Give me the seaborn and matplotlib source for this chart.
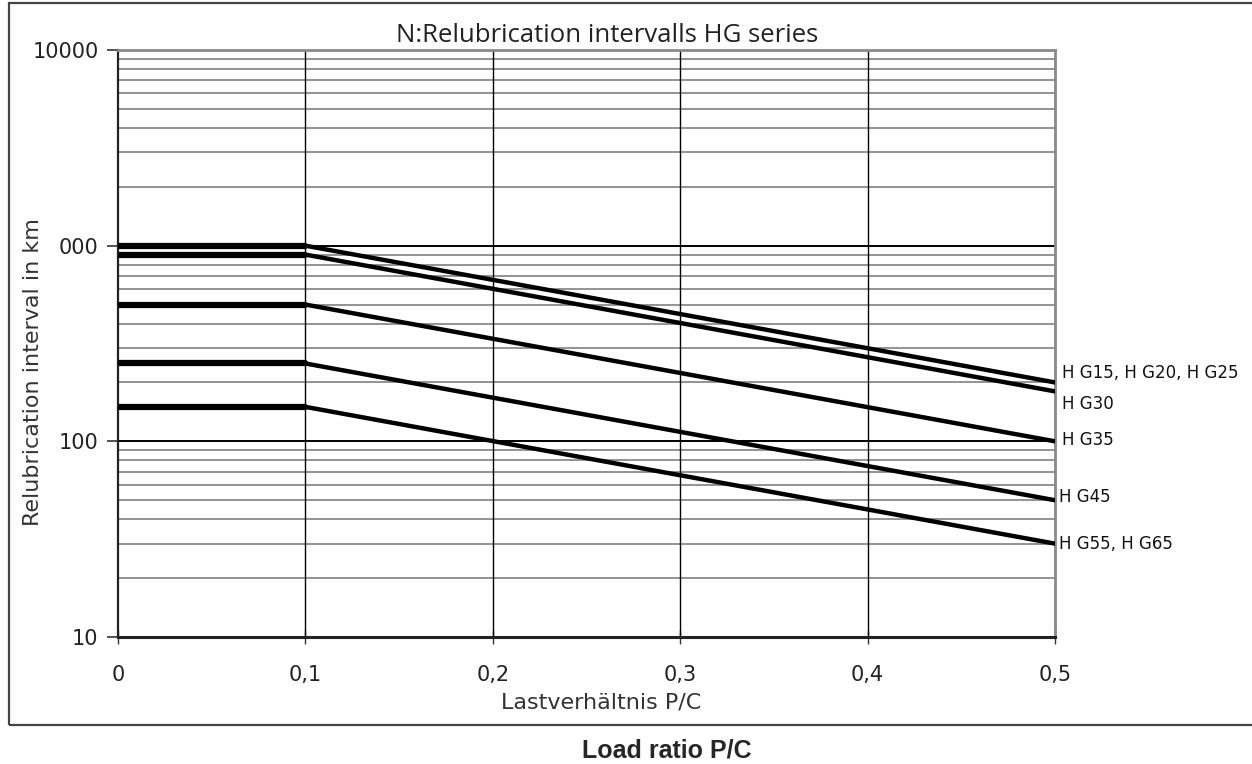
import pandas as pd
import matplotlib
matplotlib.use("Agg")
import matplotlib.pyplot as plt
import matplotlib.ticker as mticker
from matplotlib.patches import Rectangle
import seaborn as sns

# Werte
serien = ["HG15, HG20, HG25", "HG30", "HG35", "HG45", "HG55, HG65"]
start_km = [1000, 900, 500, 250, 150]   # konstant bis P/C = 0,1
ende_km = [200, 180, 100, 50, 30]       # bei P/C = 0,5
knick_pc = 0.1
ende_pc = 0.5
x_ticks = [0, 0.1, 0.2, 0.3, 0.4, 0.5]
x_ticklabels = ["0", "0,1", "0,2", "0,3", "0,4", "0,5"]
y_ticks = [10, 100, 1000, 10000]
y_ticklabels = ["10", "100", "000", "10000"]

# Label-Versatz in Punkten (nur Layout)
label_dy = [7, -9, 1, 2, 0]
label_dx = [5, 5, 5, 3, 3]

rows_flach = []
rows_schraeg = []
for s, a, e in zip(serien, start_km, ende_km):
    rows_flach += [(s, 0.0, a), (s, knick_pc, a)]
    rows_schraeg += [(s, knick_pc, a), (s, ende_pc, e)]
df_flach = pd.DataFrame(rows_flach, columns=["serie", "pc", "km"])
df_schraeg = pd.DataFrame(rows_schraeg, columns=["serie", "pc", "km"])

sns.set_theme(style="white")
plt.rcParams["font.family"] = ["DejaVu Sans"]

fig = plt.figure(figsize=(12.52, 7.64), dpi=100)
ax = fig.add_axes([118 / 1252, 1 - 637 / 764, (1055 - 118) / 1252, (637 - 50) / 764])

ax.set_yscale("log")
ax.set_xlim(0, 0.5)
ax.set_ylim(10, 10000)

# Gitter
ax.yaxis.set_minor_locator(mticker.LogLocator(base=10, subs=range(2, 10)))
ax.grid(which="minor", axis="y", color="#808080", lw=1.2)
for v in [100, 1000]:
    ax.axhline(v, color="black", lw=1.4, zorder=1)
for v in x_ticks[1:-1]:
    ax.axvline(v, color="black", lw=1.0, zorder=1)

sns.lineplot(data=df_flach, x="pc", y="km", units="serie", estimator=None,
             color="black", lw=4.5, ax=ax, zorder=3)
sns.lineplot(data=df_schraeg, x="pc", y="km", units="serie", estimator=None,
             color="black", lw=3.2, ax=ax, zorder=3)

for s, e, dx, dy in zip(serien, ende_km, label_dx, label_dy):
    ax.annotate(s.replace("HG", "H G"), xy=(ende_pc, e), xytext=(dx, dy),
                textcoords="offset points", ha="left", va="center",
                fontsize=12, color="#111111", annotation_clip=False)

ax.set_xticks(x_ticks)
ax.set_xticklabels(x_ticklabels)
ax.set_yticks(y_ticks)
ax.set_yticklabels(y_ticklabels)
ax.tick_params(axis="y", which="major", direction="out", length=8, width=1.2,
               color="#333333", labelsize=15, labelcolor="#222222", pad=6, left=True)
ax.tick_params(axis="y", which="minor", left=False)
ax.tick_params(axis="x", which="major", direction="inout", length=10, width=1.0,
               color="#333333", labelsize=15, labelcolor="#222222", pad=15, bottom=True)

for side in ["top", "right"]:
    ax.spines[side].set_color("#8a8a8a")
    ax.spines[side].set_linewidth(2)
ax.spines["left"].set_color("#222222")
ax.spines["left"].set_linewidth(1.6)
ax.spines["bottom"].set_color("#222222")
ax.spines["bottom"].set_linewidth(2.2)

ax.set_xlabel("Lastverhältnis P/C", fontsize=16, color="#333333")
ax.xaxis.set_label_coords(0.5155, -0.0954)
ax.set_ylabel("Relubrication interval in km", fontsize=16, color="#333333")
ax.yaxis.set_label_coords(-0.080, 0.451)
titel = ax.set_title("N:Relubrication intervalls HG series", fontsize=18.5, color="#222222",
                     family=["Open Sans", "DejaVu Sans"], pad=6)
titel.set_x(0.522)

# Rahmen um das Diagramm
fig.patches.append(Rectangle((9 / 1252, 1 - 725 / 764), 1.0, (725 - 3) / 764,
                             transform=fig.transFigure, fill=False,
                             edgecolor="#444444", lw=1.6))
fig.text(667 / 1252, 1 - 750 / 764, "Load ratio P/C", ha="center", va="center",
         fontsize=18, fontweight="bold", family=["Liberation Sans", "DejaVu Sans"])

fig.savefig("out.png", dpi=100, facecolor="white")
